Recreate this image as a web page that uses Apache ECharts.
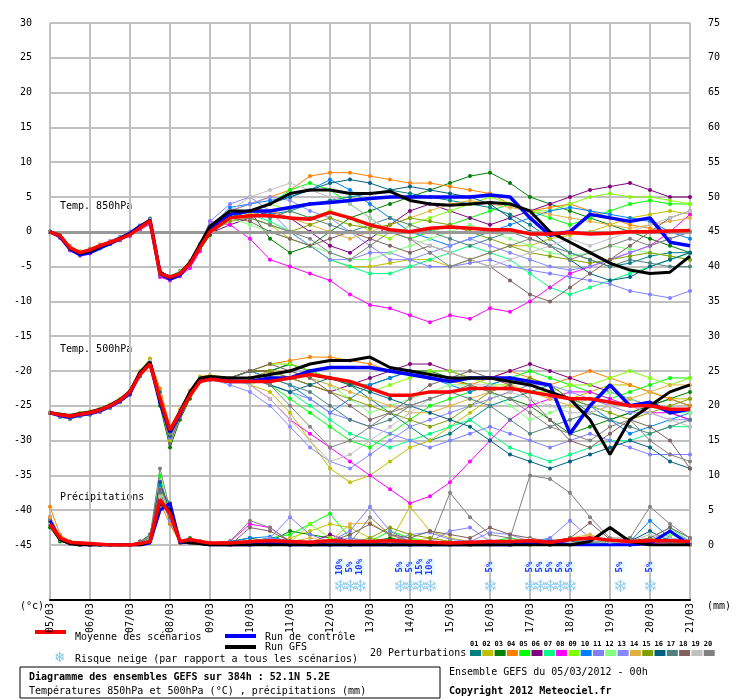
<!DOCTYPE html>
<html><head><meta charset="utf-8">
<script src="https://cdn.jsdelivr.net/npm/echarts@6/dist/echarts.min.js"></script>
<style>body{margin:0;background:#fff}#main{width:740px;height:700px}</style>
</head><body><div id="main"></div>
<script>
// time steps (h): 6h up to 96h, then 12h
var hours = [0,6,12,18,24,30,36,42,48,54,60,66,72,78,84,90,96,108,120,132,144,156,168,180,192,204,216,228,240,252,264,276,288,300,312,324,336,348,360,372,384];
var dayLabels = ['05/03','06/03','07/03','08/03','09/03','10/03','11/03','12/03','13/03','14/03','15/03','16/03','17/03','18/03','19/03','20/03','21/03'];
var pertColors = ['#008080','#c0c000','#008000','#ff8000','#00ff00','#800080','#00ff80','#ff00ff','#80ff00','#0080ff','#8080ff','#80ff80','#8888ff','#e0b040','#80a000','#006080','#508080','#806060','#c0c0c0','#808080'];

// Temp 850hPa
var t850Mean = [0,-0.6,-2.3,-3,-2.6,-2,-1.5,-1,-0.4,0.6,1.6,-6,-6.5,-6,-4.6,-2.2,0,2,2.3,2.3,2,1.8,2.8,2,1,0.3,0,0.5,0.7,0.5,0.3,0.3,-0.3,-0.3,-0.1,-0.3,-0.2,0,0,0.1,0.2];
var t850Ctrl = [0,-0.7,-2.5,-3.3,-3,-2.3,-1.7,-1,-0.2,0.8,1.6,-6,-6.8,-6.2,-4.5,-2,0.5,2.5,3,3,3.5,4,4.2,4.5,4.8,5,5,5,5,5,5.3,5,2,-0.5,0,2.5,2,1.5,2,-1.5,-2];
var t850Gfs = [0,-0.5,-2.4,-3.1,-2.8,-2.1,-1.6,-0.9,-0.3,0.7,1.7,-5.8,-6.6,-6,-4.4,-1.8,0.8,3,3,4,5.5,6,6,5.5,5.5,5.8,4.5,4,3.8,4,4.2,4,3,0,-1.5,-3,-4.5,-5.5,-6,-5.8,-3.5];
var t850P01 = [0,-0.8,-2.5,-3.2,-3,-2.2,-1.6,-1,-0.3,0.8,1.8,-5.5,-6.8,-6.2,-5,-2.5,0,2,3,2.5,3,4,4.5,5,5.5,6,5.5,5,4.5,4,3.5,2.5,1,-1,-3,-4,-5,-4.5,-3.5,-3,-3];
var t850P02 = [0,-0.4,-2,-2.8,-2.4,-1.8,-1.4,-0.8,-0.2,0.6,1.4,-6.2,-6.4,-5.6,-4.2,-2,0.4,2.5,2,1,-1,-2,-4,-5,-5,-4.5,-4,-4,-5,-4,-3,-2,-2,-1,-0.5,0,1,2,2.5,3,2.5];
var t850P03 = [0,-0.6,-2.6,-3.4,-2.9,-2.4,-1.7,-1.2,-0.5,0.4,1.2,-6.4,-6.9,-6.1,-4.8,-2.6,-0.5,2,3,-1,-3,-2,0,2,3,4,5,6,7,8,8.5,7,5,4,3,2,1,0,-1,-2,-3];
var t850P04 = [0,-0.5,-2.2,-2.9,-2.5,-1.9,-1.5,-0.9,-0.4,0.5,1.5,-5.8,-6.6,-5.8,-4.4,-2.1,0.2,3,4,5,6,8,8.5,8.5,8,7.5,7,7,6.5,6,5.5,4,3,3.5,4,3,2,1,0.5,0,0];
var t850P05 = [0,-0.7,-2.4,-3.1,-2.7,-2.1,-1.4,-1.1,-0.3,0.9,1.9,-5.6,-6.5,-5.9,-4.7,-2.3,0.1,2,3,4,6,7,6,4,2,0,-1,0,1,2,3,4,3,2,1,2,3,4,4.5,4,4];
var t850P06 = [0,-0.6,-2.1,-3,-2.7,-2.2,-1.6,-1,-0.5,0.4,1.5,-6.1,-6.7,-6.3,-4.9,-2.4,-0.2,1,2,3,2,0,-2,-3,-1,1,3,4,3,2,1,2,3,4,5,6,6.5,7,6,5,5];
var t850P07 = [0,-0.5,-2.3,-3.3,-2.8,-2,-1.5,-0.8,-0.1,0.7,1.7,-5.9,-6.3,-5.7,-4.3,-1.9,0.3,3,2.5,1.5,0,-2,-4,-5,-6,-6,-5,-4,-3,-2,-3,-4,-6,-8,-9,-8,-7,-6,-5,-4,-3];
var t850P08 = [0,-0.9,-2.7,-3.4,-3.1,-2.3,-1.8,-1.2,-0.6,0.3,1.1,-6.5,-7,-6.4,-5.2,-2.8,1.5,1,-1,-4,-5,-6,-7,-9,-10.5,-11,-12,-13,-12,-12.5,-11,-11.5,-10,-8,-6,-5,-4,-3,-2,0,2.5];
var t850P09 = [0,-0.6,-2.2,-3,-2.6,-2,-1.5,-1,-0.4,0.6,1.6,-5.7,-6.4,-5.9,-4.5,-2.2,0.3,2,3,4,3,2,3,2,0,-1,1,2,3,4,5,4,3,3,4,5,5.5,5,5,4.5,4];
var t850P10 = [0,-0.7,-2.4,-3.2,-2.8,-2.2,-1.6,-1.1,-0.4,0.7,1.7,-6,-6.6,-6,-4.6,-2.2,0.6,3.5,4,4.5,5,6,7.5,6,4,2,0,-1,-2,-1,0,1,2,3,3.5,3,2.5,2,1.5,0,-1];
var t850P11 = [0,-0.5,-2.1,-2.9,-2.5,-1.9,-1.3,-0.7,0,0.9,1.9,-5.7,-6.4,-5.8,-4.3,-1.7,1.5,4,5,3,0,-2,-4,-4,-3,-3,-4,-5,-5,-4.5,-4,-5,-5.5,-6,-6.5,-7,-7.5,-8.5,-9,-9.5,-8.5];
var t850P12 = [0,-0.6,-2.3,-3.1,-2.7,-2.1,-1.5,-1,-0.4,0.5,1.5,-6.1,-6.6,-6.1,-4.7,-2.4,0,2,1,0,-1,-2,-3,-4,-4,-3,-2,-1,0,1,0,-1,-2,-3,-3.5,-3,-2,-2.5,-3,-3.5,-4];
var t850P13 = [0,-0.8,-2.6,-3.3,-2.9,-2.3,-1.7,-1.1,-0.5,0.6,1.6,-6.2,-6.8,-6.2,-4.8,-2.3,0.8,3,4,5,4.5,3,2,0,-2,-4,-4,-3,-2,-1,-2,-3,-4,-5,-5.5,-5,-4,-3,-2,-1,0];
var t850P14 = [0,-0.5,-2.2,-2.9,-2.6,-2,-1.4,-0.9,-0.3,0.6,1.6,-5.9,-6.5,-5.9,-4.5,-2.1,0.2,2,2.5,3,2,1,0,-1,0,1,2,3,4,4.5,4,3.5,3,2.5,2,1.5,1,0.5,1,1.5,2];
var t850P15 = [0,-0.7,-2.4,-3.2,-2.8,-2.2,-1.6,-1,-0.4,0.5,1.4,-6.1,-6.7,-6.1,-4.7,-2.4,0,1.5,2,1,0,1,2,1,0.5,1,2,1.5,1,0,-1,-2,-3,-3.5,-4,-4.5,-4,-3.5,-3,-3.5,-4];
var t850P16 = [0,-0.6,-2.4,-3.1,-2.7,-2.1,-1.5,-0.9,-0.3,0.7,1.8,-5.8,-6.5,-5.9,-4.5,-2.1,0.4,2,3,4,5,6,7,7.5,7,6,6.5,6,5.5,5,4,2,0,-2,-4,-6,-7,-6.5,-5,-4,-3];
var t850P17 = [0,-0.6,-2.3,-3,-2.7,-2.1,-1.5,-1,-0.4,0.6,1.6,-6,-6.6,-6,-4.6,-2.2,0.2,2.5,3,2,3,2,1,0,1,2,1,0,-1,-2,-1,0,-1,-2,-3,-4,-5,-4,-4.5,-5,-5];
var t850P18 = [0,-0.7,-2.5,-3.2,-2.8,-2.2,-1.6,-1.1,-0.5,0.5,1.5,-6.2,-6.7,-6.1,-4.7,-2.3,0,2,1.5,0,-1,-2,-1,0,-1,-2,-3,-2,-3,-4,-5,-7,-9,-10,-8,-6,-4,-2,0,2,3];
var t850P19 = [0,-0.5,-2.2,-3,-2.6,-2,-1.4,-0.9,-0.3,0.7,1.7,-5.8,-6.4,-5.8,-4.4,-2,0.5,3,5,6,7,6,5,4,2,0,-1,-2,-3,-4,-5,-4,-3,-2,-1,-2,-1,0,1,2,3];
var t850P20 = [0,-0.6,-2.4,-3.1,-2.7,-2.1,-1.5,-1,-0.4,0.6,1.6,-6,-6.6,-6,-4.6,-2.2,0.2,2,2,1,0,-1,-3,-4,-2,0,-1,-3,-5,-4,-3,-2,-1,-2,-4,-3,-2,-1,-2,-1,0];

// Temp 500hPa
var t500Mean = [-26,-26.3,-26.5,-26.2,-26,-25.6,-25,-24.2,-23,-20.5,-19,-24,-28.5,-26,-23.5,-21.5,-21.2,-21.5,-21.5,-21.5,-21,-20.5,-21,-21.5,-22.5,-23.5,-23.5,-23,-23,-22.5,-22.5,-22.5,-23,-23.5,-24,-24,-24.5,-25,-25,-25.5,-25.5];
var t500Ctrl = [-26,-26.4,-26.6,-26.3,-26.1,-25.7,-25.1,-24.3,-23.2,-20.3,-18.8,-24.5,-28.8,-26.2,-23.2,-21.2,-21,-21.5,-21.5,-21,-21,-20,-19.5,-19.5,-19.5,-20,-20.5,-21,-21.5,-21,-21,-21,-21.5,-22,-29,-25,-22,-25,-24.5,-26,-25.5];
var t500Gfs = [-26,-26.2,-26.4,-26.1,-25.9,-25.5,-24.9,-24.1,-22.9,-20.2,-18.7,-24.3,-28.6,-25.8,-23,-21,-20.8,-21,-21,-20.5,-20,-19,-18.5,-18.5,-18,-19.5,-20,-20.5,-21,-21,-21,-21.5,-22,-23,-24,-27,-32,-27,-25,-23,-22];
var t500P01 = [-26,-26.5,-26.8,-26.4,-26.2,-25.8,-25.2,-24.4,-23.3,-20.5,-18.5,-23,-29,-26,-23,-21,-21,-21,-21,-20,-19,-20,-21,-22,-24,-26,-28,-30,-29,-27,-25,-24,-23,-22,-24,-26,-27,-26,-25,-24,-25];
var t500P02 = [-26,-26.2,-26.4,-26,-25.8,-25.4,-24.8,-24,-22.8,-20,-18.2,-24,-30,-26.5,-23.5,-21.2,-21,-21,-22,-23,-26,-30,-34,-36,-35,-33,-31,-30,-28,-26,-24,-23,-22,-23,-24,-23,-22,-22,-23,-24,-24];
var t500P03 = [-26,-26.6,-26.9,-26.5,-26.3,-25.9,-25.3,-24.5,-23.4,-20.8,-19.2,-25,-31,-27,-24,-21.5,-21.3,-21,-20,-20,-19,-20,-21,-22,-22,-21,-20,-20,-21,-22,-23,-24,-25,-27,-29,-28,-27,-26,-25,-24,-23];
var t500P04 = [-26,-26.3,-26.5,-26.2,-26,-25.6,-25,-24.2,-23,-20.1,-18.4,-22.5,-28,-25.5,-22.8,-20.8,-20.6,-21,-20,-19,-18.5,-18,-18,-18.5,-19,-20,-20,-21,-21.5,-22,-21,-20,-21,-22,-21,-20,-21,-22,-23,-24,-25];
var t500P05 = [-26,-26.4,-26.7,-26.3,-26.1,-25.7,-25.1,-24.3,-23.1,-20.4,-18.9,-24.2,-29.5,-26.4,-23.3,-21.3,-21.1,-21,-21,-22,-24,-26,-28,-30,-31,-29,-27,-25,-24,-23,-22,-21,-20,-21,-22,-23,-24,-23,-22,-21,-21];
var t500P06 = [-26,-26.3,-26.6,-26.2,-26,-25.6,-25,-24.2,-23,-20.2,-18.6,-23.6,-28.3,-25.7,-23,-21,-20.8,-21,-20,-20,-21,-22,-23,-22,-21,-20,-19,-19,-20,-21,-21,-20,-19,-20,-21,-22,-23,-24,-25,-26,-27];
var t500P07 = [-26,-26.5,-26.7,-26.4,-26.2,-25.8,-25.2,-24.4,-23.2,-20.6,-19,-24.4,-29.2,-26.3,-23.4,-21.4,-21.2,-21,-21,-22,-23,-25,-27,-29,-30,-31,-30,-29,-28,-27,-29,-31,-32,-33,-32,-31,-30,-30,-29,-28,-28];
var t500P08 = [-26,-26.4,-26.6,-26.3,-26.1,-25.7,-25.1,-24.3,-23.1,-20.3,-18.8,-24,-28.7,-25.9,-23.1,-21.1,-20.9,-21,-22,-24,-27,-29,-31,-33,-35,-37,-39,-38,-36,-33,-30,-27,-25,-24,-23,-23,-24,-25,-26,-26,-27];
var t500P09 = [-26,-26.2,-26.5,-26.1,-25.9,-25.5,-24.9,-24.1,-22.9,-20.1,-18.5,-23.5,-28.2,-25.6,-22.9,-20.9,-20.7,-21,-20,-19,-19,-20,-21,-22,-23,-22,-21,-20,-20,-21,-22,-22,-23,-23,-22,-22,-21,-20,-21,-22,-21];
var t500P10 = [-26,-26.4,-26.7,-26.3,-26.1,-25.7,-25.1,-24.3,-23.1,-20.4,-18.8,-24.1,-28.9,-26.1,-23.2,-21.2,-21,-21,-20,-21,-22,-24,-26,-24,-22,-21,-20,-21,-22,-23,-22,-21,-22,-23,-24,-25,-27,-29,-28,-27,-26];
var t500P11 = [-26,-26.6,-26.9,-26.5,-26.3,-25.9,-25.3,-24.5,-23.4,-20.7,-19.1,-24.6,-29.6,-26.6,-23.6,-21.6,-21.3,-21,-21,-22,-23,-24,-26,-27,-28,-29,-30,-31,-30,-29,-28,-29,-30,-31,-30,-29,-30,-31,-32,-32,-32];
var t500P12 = [-26,-26.3,-26.5,-26.2,-26,-25.6,-25,-24.2,-23,-20.3,-18.7,-23.8,-28.5,-25.8,-23,-21,-20.8,-21,-22,-21,-20,-21,-22,-24,-26,-25,-24,-23,-22,-22,-23,-25,-27,-26,-25,-24,-23,-24,-25,-26,-26];
var t500P13 = [-26,-26.5,-26.8,-26.4,-26.2,-25.8,-25.2,-24.4,-23.2,-20.5,-18.9,-24.3,-29.1,-26.2,-23.3,-21.3,-21.1,-22,-23,-25,-28,-31,-33,-34,-32,-30,-28,-27,-26,-25,-24,-23,-22,-22,-23,-24,-25,-26,-26,-27,-27];
var t500P14 = [-26,-26.3,-26.6,-26.2,-26,-25.6,-25,-24.2,-23,-20.2,-18.6,-23.7,-28.4,-25.7,-23,-21,-20.8,-21,-21,-20,-20,-21,-22,-23,-24,-25,-26,-26,-25,-24,-23,-22,-23,-24,-25,-26,-25,-24,-23,-22,-22];
var t500P15 = [-26,-26.4,-26.7,-26.3,-26.1,-25.7,-25.1,-24.3,-23.1,-20.4,-18.8,-24,-28.8,-26,-23.2,-21.2,-21,-21,-20,-20,-21,-22,-23,-24,-25,-26,-27,-28,-27,-25,-23,-22,-21,-22,-24,-25,-26,-27,-26,-25,-24];
var t500P16 = [-26,-26.5,-26.8,-26.4,-26.2,-25.8,-25.2,-24.4,-23.3,-20.6,-19,-24.5,-29.3,-26.3,-23.4,-21.4,-21.2,-21,-21,-22,-23,-22,-21,-22,-23,-24,-25,-26,-27,-28,-30,-32,-33,-34,-33,-32,-31,-30,-31,-33,-34];
var t500P17 = [-26,-26.3,-26.5,-26.2,-26,-25.6,-25,-24.2,-23,-20.3,-18.7,-23.9,-28.6,-25.9,-23.1,-21.1,-20.9,-21,-20,-21,-22,-23,-25,-27,-28,-27,-25,-24,-23,-24,-25,-27,-29,-28,-27,-26,-27,-28,-29,-28,-27];
var t500P18 = [-26,-26.4,-26.6,-26.3,-26.1,-25.7,-25.1,-24.3,-23.1,-20.4,-18.8,-24.1,-30.5,-26.5,-23.3,-21.3,-21.1,-21,-20,-19,-20,-21,-23,-25,-27,-26,-24,-22,-21,-20,-21,-22,-24,-27,-30,-31,-29,-27,-28,-30,-34];
var t500P19 = [-26,-26.3,-26.6,-26.2,-26,-25.6,-25,-24.2,-23,-20.2,-18.6,-23.6,-28.4,-25.7,-23,-21,-20.8,-21,-22,-24,-27,-30,-33,-32,-30,-28,-26,-24,-23,-22,-22,-23,-24,-25,-26,-26,-25,-25,-26,-27,-28];
var t500P20 = [-26,-26.5,-26.7,-26.4,-26.2,-25.8,-25.2,-24.4,-23.2,-20.5,-18.9,-24.2,-29,-26.2,-23.3,-21.3,-21.1,-21,-21,-22,-25,-28,-31,-30,-28,-26,-25,-24,-23,-22,-23,-24,-26,-28,-29,-30,-28,-27,-30,-32,-33];

// Précipitations (mm, right axis)
var prMean = [3,1,0.4,0.3,0.2,0.1,0,0,0,0.2,0.5,6.5,4.5,0.5,0.8,0.5,0.3,0.3,0.5,0.6,0.5,0.4,0.6,0.5,0.5,0.6,0.5,0.4,0.3,0.4,0.5,0.5,0.6,0.4,0.8,1,0.7,0.5,0.6,0.6,0.5];
var prCtrl = [3.5,0.8,0.2,0.1,0,0,0,0,0,0,0.3,5,6,0.3,0.5,0.2,0,0,0,0.2,0,0,0,0,0,0,0,0,0,0,0,0,0.3,0.5,0,0,0,0,0.2,2,0];
var prGfs = [3,0.8,0.2,0,0,0,0,0,0,0,0.5,6,5,0.5,0.3,0.2,0,0,0,0,0,0,0,0,0,0,0,0,0,0,0,0,0,0,0,0.5,2.5,0.5,0,0,0];
var prP01 = [4,1.2,0.5,0.2,0,0,0,0,0,0.5,1,9,3,0.5,0.8,0.5,0.2,0,0.5,1,0.5,0,0,0.3,0.5,0.2,0,0,0,0.2,0.5,0,0,0,0.3,0.5,0.2,0,0.5,1,0.3];
var prP02 = [3,1,0.3,0,0,0,0,0,0,0.2,0.8,7,4,0.3,0.5,0.3,0.2,0,0,0,1,2,3,2.5,1,0.5,5.5,2,1,0.5,0.3,0.2,0,0.5,1,0.5,0.3,0.5,1,0.5,0];
var prP03 = [2.5,0.5,0.2,0,0,0,0,0,0,0.3,1.5,8,5,0.5,1,0.5,0.3,0.5,1,0.5,2,1.5,1,0.5,0.5,1,0.5,0.3,0,0,0.2,0.5,0.3,0.5,0.3,0.5,0.2,1,0.5,0.3,0.5];
var prP04 = [5.5,1.5,0.5,0.2,0,0,0,0,0,0.3,1.2,6,3,0.3,0.6,0.4,0.2,0,0.3,0.5,0.2,0,0.3,0,0.2,0,0,0,0.3,0,0,0.2,0.5,0.3,0,0.5,0.3,0.6,0.3,0.5,0];
var prP05 = [3,1,0.3,0.2,0,0,0,0,0,0.2,1,10,4,0.5,0.7,0.4,0.3,0.2,0.5,1,1.5,3,4.5,1,0.5,2,1,0.5,0.3,0.2,0.5,1,0.5,0.3,0.5,1,0.5,0.3,0.5,0.3,0.5];
var prP06 = [3.5,1,0.2,0,0,0,0,0,0,0.3,0.8,7,4,0.5,0.5,0.3,0.2,0,0.2,0.5,0,0.3,1.5,0.5,0.3,0.2,0,0,0,0.2,0.5,0.3,0.5,0.2,0.3,0.5,0.2,0.3,0.5,0.3,0.2];
var prP07 = [3,0.8,0.3,0,0,0,0,0,0,0.2,1.5,8,6,0.5,0.8,0.5,0.3,0,0.3,0.5,0.3,0.5,0.2,0.3,0.5,0.3,0,0,0.2,0.3,0.5,0.2,0.5,0.3,0.5,0.3,0.5,0.3,1,2.5,0.5];
var prP08 = [4,1.2,0.4,0.1,0,0,0,0,0,0.3,1,9,4,0.6,0.8,0.5,0.3,0.5,3,2.5,0.5,0.3,0.2,0.3,0.5,0.3,0.2,0,0,0.2,0.3,0.5,0.3,0.2,0.3,0.2,0.5,0.3,0.2,0.3,0.2];
var prP09 = [3,1,0.3,0.1,0,0,0,0,0,0.2,1,7,5,0.4,0.6,0.4,0.2,0,0.2,0.5,0.3,3,1,0.5,0.3,0.5,0.8,0.5,0.3,0.2,0.5,0.3,0.8,0.5,0.3,0.5,0.3,0.5,0.5,0.3,0.3];
var prP10 = [3.5,1.2,0.4,0.2,0,0,0,0,0,0.3,1.2,8.5,4,0.5,0.7,0.5,0.3,0.5,1,1.2,0.5,0.3,0.2,0,0.3,0.5,0.3,0,0,0.3,0.5,0.2,0.5,0.8,0.3,0.5,0.2,0.5,3.5,1,0.5];
var prP11 = [3,0.8,0.3,0,0,0,0,0,0,0.2,0.8,7.5,5,0.4,0.5,0.3,0.2,0,0,1,4,1.5,0.5,2,5.5,2,0.5,0.5,2,2.5,0.5,0.3,0.5,1,3.5,1,0.5,0.3,0.5,0.3,0.5];
var prP12 = [3.5,1,0.3,0.1,0,0,0,0,0,0.3,1,8,4,0.5,0.6,0.4,0.3,0.2,0.5,0.8,0.5,0.3,0.5,0.3,0.2,0.5,0.3,0.2,0,0.3,0.5,0.2,0.3,0.5,0.3,0.2,0.5,0.3,0.2,1.5,0.5];
var prP13 = [3,1,0.3,0,0,0,0,0,0,0.2,1,7,3.5,0.4,0.6,0.4,0.2,0,0.5,1,0.5,0.3,0.5,1,0.5,0.5,1.5,1.8,0.8,0.5,1.8,1.5,0.5,0.5,1,0.5,0.3,0.5,0.8,2,0.5];
var prP14 = [4,1.2,0.4,0.1,0,0,0,0,0,0.3,1.2,8,5,0.5,0.7,0.5,0.3,0.2,0.5,0.3,0.5,1,0.5,3,3.2,1.5,0.5,1,0.5,0.3,0.5,0.2,0.3,0.5,1,1.5,0.5,0.3,1,0.5,0.3];
var prP15 = [3,0.8,0.3,0,0,0,0,0,0,0.2,0.8,7,4,0.4,0.5,0.3,0.2,0,0.3,0.5,0.3,0.2,0.5,0.3,1,2.5,1.5,1,0.5,0.3,0.5,0.3,0.8,0.5,0.3,0.5,0.3,0.5,0.3,0.5,0.3];
var prP16 = [3.5,1,0.4,0.1,0,0,0,0,0,0.3,1,9,5,0.5,0.6,0.4,0.3,0.2,0.5,0.3,0.5,0.3,0.5,0.3,0.5,0.3,0.2,0,0.2,0.3,0.5,0.3,0.5,0.3,0.5,0.3,0.2,0.5,2,0.5,0.5];
var prP17 = [3,1,0.3,0,0,0,0,0,0,0.2,1,7.5,4,0.4,0.6,0.4,0.2,0,0.3,0.5,0.3,0.2,0.5,0.3,0.2,0.5,0.3,0.2,0,0.2,0.3,0.5,0.3,0.2,0.5,0.3,0.5,0.3,0.5,0.3,0.2];
var prP18 = [3.5,1.2,0.4,0.2,0,0,0,0,0,0.5,1.5,8,6,0.5,0.8,0.5,0.3,0,2.5,2,0.5,0.3,0.5,1.5,3,1.5,1,2,1.5,1,2.5,1.5,1,0.5,1,3.2,0.8,0.5,1,2.5,1];
var prP19 = [3,1,0.3,0.1,0,0,0,0,0,0.2,1,7,4.5,0.5,0.6,0.4,0.2,0,0.3,0.5,0.3,0.5,0.3,0.2,0.5,0.3,0.2,0,0,0.2,0.5,0.3,0.8,0.5,0.3,0.5,0.3,0.5,1.5,1,0.5];
var prP20 = [3.5,1,0.3,0,0,0,0,0,0,0.3,1.2,11,5,0.5,0.7,0.5,0.3,0.5,3.5,2.5,0.5,0.3,0.5,0.3,4,1.5,0.5,0.3,7.5,4,1.5,1,10,9.5,7.5,4,1,1,5.5,3,1];

// snow risk markers: hour, percent
var snowHours = [174,180,186,210,216,222,228,264,288,294,300,306,312,342,360];
var snowPct = ['10%','5%','10%','5%','5%','15%','10%','5%','5%','5%','5%','5%','5%','5%','5%'];

var t850P = [t850P01,t850P02,t850P03,t850P04,t850P05,t850P06,t850P07,t850P08,t850P09,t850P10,t850P11,t850P12,t850P13,t850P14,t850P15,t850P16,t850P17,t850P18,t850P19,t850P20];
var t500P = [t500P01,t500P02,t500P03,t500P04,t500P05,t500P06,t500P07,t500P08,t500P09,t500P10,t500P11,t500P12,t500P13,t500P14,t500P15,t500P16,t500P17,t500P18,t500P19,t500P20];
var prP = [prP01,prP02,prP03,prP04,prP05,prP06,prP07,prP08,prP09,prP10,prP11,prP12,prP13,prP14,prP15,prP16,prP17,prP18,prP19,prP20];

function pts(arr) { return hours.map(function (h, i) { return [h, arr[i]]; }); }

var FONT = 'DejaVu Sans Mono';
var series = [];
[t850P, t500P, prP].forEach(function (group, g) {
    group.forEach(function (arr, i) {
        series.push({
            type: 'line', data: pts(arr), yAxisIndex: g == 2 ? 1 : 0,
            symbol: 'emptyCircle', symbolSize: 2, silent: true,
            lineStyle: { width: 1, color: pertColors[i] }, itemStyle: { color: pertColors[i] }
        });
    });
});
function main(arr, color, width, yi) {
    return { type: 'line', data: pts(arr), yAxisIndex: yi, symbol: 'none', silent: true, z: 5,
        lineStyle: { width: width, color: color } };
}
series.push(main(t850Ctrl, '#0000ff', 3.5, 0), main(t850Gfs, '#000000', 3, 0), main(t850Mean, '#ff0000', 3.5, 0));
series.push(main(t500Ctrl, '#0000ff', 3.5, 0), main(t500Gfs, '#000000', 3, 0), main(t500Mean, '#ff0000', 3.5, 0));
series.push(main(prCtrl, '#0000ff', 3, 1), main(prGfs, '#000000', 3, 1), main(prMean, '#ff0000', 3.5, 1));
// 0°C reference line
series.push({ type: 'line', data: [], yAxisIndex: 0, z: 1,
    markLine: { silent: true, symbol: 'none', label: { show: false },
        lineStyle: { color: '#999', width: 3, type: 'solid' }, data: [{ yAxis: 0 }] } });
// snow markers in lower grid
series.push({ type: 'scatter', xAxisIndex: 1, yAxisIndex: 2, symbolSize: 0, silent: true,
    data: snowHours.map(function (h) { return [h, 0.22]; }),
    label: { show: true, formatter: '❄', color: '#7cc4ee', fontSize: 17, fontFamily: 'DejaVu Sans' } });
series.push({ type: 'scatter', xAxisIndex: 1, yAxisIndex: 2, symbolSize: 0, silent: true,
    data: snowHours.map(function (h, i) { return { value: [h, 0.6], name: snowPct[i] }; }),
    label: { show: true, formatter: '{b}', rotate: 90, color: '#0000ff', fontSize: 9, fontWeight: 'bold',
        fontFamily: FONT, backgroundColor: '#d8f8ff' } });

var F = '10px ' + FONT;
var graphics = [
    { type: 'text', left: 60, top: 201, style: { text: 'Temp. 850hPa', font: F, fill: '#000' } },
    { type: 'text', left: 60, top: 344, style: { text: 'Temp. 500hPa', font: F, fill: '#000' } },
    { type: 'text', left: 60, top: 492, style: { text: 'Précipitations', font: F, fill: '#000' } },
    { type: 'text', left: 20, top: 601, style: { text: '(°c)', font: F, fill: '#000' } },
    { type: 'text', left: 707, top: 601, style: { text: '(mm)', font: F, fill: '#000' } },
    { type: 'rect', shape: { x: 35, y: 630, width: 31, height: 4 }, style: { fill: '#ff0000' } },
    { type: 'text', left: 75, top: 632, style: { text: 'Moyenne des scénarios', font: F, fill: '#000' } },
    { type: 'rect', shape: { x: 225, y: 634, width: 31, height: 4 }, style: { fill: '#0000ff' } },
    { type: 'text', left: 265, top: 632, style: { text: 'Run de contrôle', font: F, fill: '#000' } },
    { type: 'rect', shape: { x: 225, y: 645, width: 31, height: 4 }, style: { fill: '#000000' } },
    { type: 'text', left: 265, top: 642, style: { text: 'Run GFS', font: F, fill: '#000' } },
    { type: 'text', left: 54, top: 651, style: { text: '❄', font: '14px DejaVu Sans', fill: '#7cc4ee' } },
    { type: 'text', left: 75, top: 654, style: { text: 'Risque neige (par rapport a tous les scénarios)', font: F, fill: '#000' } },
    { type: 'text', left: 370, top: 648, style: { text: '20 Perturbations', font: F, fill: '#000' } },
    { type: 'rect', shape: { x: 20, y: 667, width: 420, height: 31 }, style: { fill: 'none', stroke: '#000', lineWidth: 1 } },
    { type: 'text', left: 29, top: 672, style: { text: 'Diagramme des ensembles GEFS sur 384h : 52.1N 5.2E', font: 'bold ' + F, fill: '#000' } },
    { type: 'text', left: 29, top: 686, style: { text: 'Températures 850hPa et 500hPa (°C) , précipitations (mm)', font: F, fill: '#000' } },
    { type: 'text', left: 449, top: 667, style: { text: 'Ensemble GEFS du 05/03/2012 - 00h', font: F, fill: '#000' } },
    { type: 'text', left: 449, top: 686, style: { text: 'Copyright 2012 Meteociel.fr', font: 'bold ' + F, fill: '#000' } }
];
pertColors.forEach(function (c, i) {
    var n = (i < 9 ? '0' : '') + (i + 1);
    graphics.push({ type: 'rect', shape: { x: 470 + i * 12.3, y: 650, width: 11, height: 6 }, style: { fill: c } });
    graphics.push({ type: 'text', left: 470 + i * 12.3, top: 641, style: { text: n, font: 'bold 7px ' + FONT, fill: '#000' } });
});

var myChart = echarts.init(document.getElementById('main'));
var option = {
    backgroundColor: '#fff',
    animation: false,
    textStyle: { fontFamily: FONT },
    grid: [
        { left: 50, right: 50, top: 23, height: 522 },
        { left: 50, right: 50, top: 545, height: 55 }
    ],
    xAxis: [
        { type: 'value', gridIndex: 0, min: 0, max: 384, interval: 24,
          axisLine: { show: false }, axisTick: { show: false }, axisLabel: { show: false },
          splitLine: { lineStyle: { color: '#c0c0c0', width: 2 } } },
        { type: 'value', gridIndex: 1, min: 0, max: 384, interval: 24,
          axisLine: { lineStyle: { color: '#000', width: 2 } }, axisTick: { show: false },
          axisLabel: { rotate: 90, color: '#000', fontSize: 10, fontFamily: FONT, margin: 3,
              formatter: function (v) { return dayLabels[v / 24]; } },
          splitLine: { lineStyle: { color: '#c0c0c0', width: 2 } } }
    ],
    yAxis: [
        { type: 'value', gridIndex: 0, min: -45, max: 30, interval: 5,
          axisLine: { show: false }, axisTick: { show: false },
          axisLabel: { color: '#000', fontSize: 10, fontFamily: FONT, margin: 18 },
          splitLine: { lineStyle: { color: '#c0c0c0', width: 2 } } },
        { type: 'value', gridIndex: 0, min: 0, max: 75, interval: 5, position: 'right',
          axisLine: { show: false }, axisTick: { show: false },
          axisLabel: { color: '#000', fontSize: 10, fontFamily: FONT, margin: 18 },
          splitLine: { show: false } },
        { type: 'value', gridIndex: 1, min: 0, max: 1, show: false }
    ],
    graphic: graphics,
    series: series
};
myChart.setOption(option);
</script>
</body></html>
